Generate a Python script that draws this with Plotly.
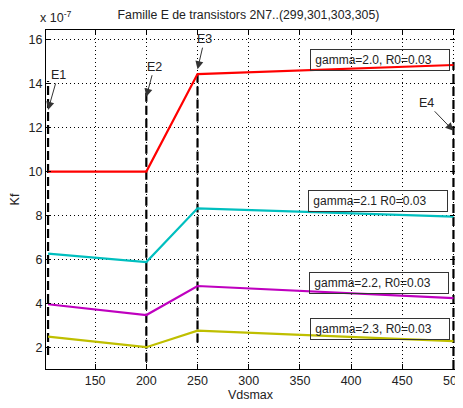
import plotly.graph_objects as go

# ---- data (Kf in units of 1e-7) ----
vds = [104, 200, 250, 500]
kf_g20 = [10.0, 10.0, 14.43, 14.84]
kf_g21 = [6.27, 5.89, 8.33, 7.95]
kf_g22 = [3.97, 3.48, 4.80, 4.25]
kf_g23 = [2.50, 2.02, 2.77, 2.30]
series_names = ["gamma=2.0, R0=0.03", "gamma=2.1 R0=0.03", "gamma=2.2, R0=0.03", "gamma=2.3, R0=0.03"]
series_colors = ["#FF0000", "#00BFBF", "#BF00BF", "#BFBF00"]

event_labels = ["E1", "E2", "E3", "E4"]
event_x = [104, 200, 250, 500]
event_top = [14.11, 13.78, 14.43, 14.98]
event_bottom = [1.67, 1.36, 2.23, 1.03]
arrow_head_y = [12.8, 13.4, 14.65, 11.85]

x_ticks = [150, 200, 250, 300, 350, 400, 450, 500]
y_ticks = [2, 4, 6, 8, 10, 12, 14, 16]

fig = go.Figure()

# event dashed lines
for ex, et, eb in zip(event_x, event_top, event_bottom):
    fig.add_trace(go.Scatter(x=[ex, ex], y=[eb, et], mode="lines",
                             line=dict(color="black", width=2.2, dash="9px,4px"),
                             cliponaxis=False,
                             showlegend=False, hoverinfo="skip"))

for ys, c in zip([kf_g20, kf_g21, kf_g22, kf_g23], series_colors):
    fig.add_trace(go.Scatter(x=vds, y=ys, mode="lines",
                             line=dict(color=c, width=2.2),
                             cliponaxis=False,
                             showlegend=False))

font_main = "Liberation Sans, Arial, sans-serif"

annotations = []
# event arrows (offsets in px from head to text)
arrow_offsets = [(10, -35), (8, -30), (7, -30), (-27, -28)]
for lab, ex, hy, (ax, ay) in zip(event_labels, event_x, arrow_head_y, arrow_offsets):
    annotations.append(dict(x=ex, y=hy, xref="x", yref="y", text=lab,
                            showarrow=True, ax=ax, ay=ay, axref="pixel", ayref="pixel",
                            arrowhead=2, arrowsize=1.6, arrowwidth=1, arrowcolor="#333",
                            font=dict(family=font_main, size=12.5, color="#222")))

# text boxes
box_pos = [(428, 15.08), (426, 8.68), (427.3, 4.955), (428, 2.84)]
for name, (bx, by) in zip(series_names, box_pos):
    annotations.append(dict(x=bx, y=by, xref="x", yref="y", text=" " + name,
                            showarrow=False, width=136, height=18, align="left",
                            bordercolor="#333", borderwidth=1, borderpad=1,
                            font=dict(family=font_main, size=12, color="#222")))

# exponent label
annotations.append(dict(x=0, y=1, xref="paper", yref="paper", xanchor="left", yanchor="bottom",
                        yshift=3, xshift=-8, text="x 10<sup>-7</sup>", showarrow=False,
                        font=dict(family=font_main, size=12.5, color="#222")))

fig.update_layout(
    width=455, height=400,
    margin=dict(l=38, r=8, t=22, b=39, autoexpand=False),
    paper_bgcolor="white", plot_bgcolor="white",
    title=dict(text="Famille E de transistors 2N7..(299,301,303,305)",
               x=(240.5 / 455), xanchor="center", y=1 - 7 / 400, yanchor="middle",
               font=dict(family=font_main, size=12.3, color="#222")),
    annotations=annotations,
    showlegend=False,
)

fig.update_xaxes(range=[102, 501.5], tickvals=x_ticks, ticktext=[str(v) for v in x_ticks],
                 automargin=False, ticklabeloverflow="allow",
                 showline=True, mirror="ticks", linecolor="black", linewidth=1,
                 ticks="inside", ticklen=5, tickcolor="black",
                 showgrid=True, gridcolor="black", griddash="1px,3px", gridwidth=1,
                 zeroline=False,
                 tickfont=dict(family=font_main, size=12.5, color="#222"),
                 title=dict(text="Vdsmax", standoff=2, font=dict(family=font_main, size=12.5, color="#222")))
fig.update_yaxes(range=[1.03, 16.43], tickvals=y_ticks, ticktext=[str(v) for v in y_ticks],
                 automargin=False,
                 showline=True, mirror="ticks", linecolor="black", linewidth=1,
                 ticks="inside", ticklen=5, tickcolor="black",
                 showgrid=True, gridcolor="black", griddash="1px,3px", gridwidth=1,
                 zeroline=False,
                 tickfont=dict(family=font_main, size=12.5, color="#222"),
                 title=dict(text="Kf", standoff=6, font=dict(family=font_main, size=12.5, color="#222")))

fig.write_html("out.html")
